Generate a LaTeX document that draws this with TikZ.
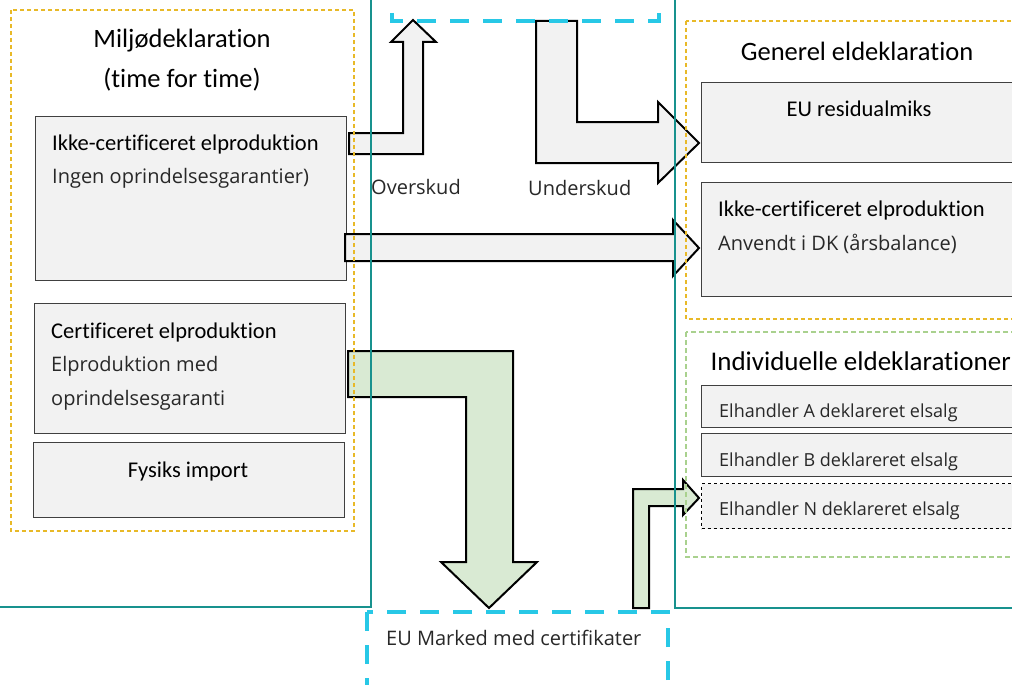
\documentclass[tikz,border=0pt]{standalone}
\usepackage{fontspec}
\setmainfont{Carlito}[Ligatures=NoCommon]
\newfontfamily\segoe{Open Sans}
\definecolor{frameteal}{RGB}{24,146,142}
\definecolor{certcyan}{RGB}{40,200,230}
\definecolor{dashgold}{RGB}{232,185,40}
\definecolor{dashgreen}{RGB}{169,209,142}
\definecolor{boxgray}{RGB}{242,242,242}
\definecolor{arrowgreen}{RGB}{217,234,211}
\definecolor{bodytext}{RGB}{40,40,40}
\begin{document}
\begin{tikzpicture}[x=1pt,y=-1pt,
    panel/.style={draw=frameteal,line width=2pt},
    market/.style={draw=certcyan,line width=4pt,dash pattern=on 19pt off 14pt},
    goldgroup/.style={draw=dashgold,line width=1.2pt,dash pattern=on 4pt off 3pt},
    greengroup/.style={draw=dashgreen,line width=1.2pt,dash pattern=on 5pt off 3pt},
    box/.style={draw=black!75,line width=1.3pt,fill=boxgray,anchor=north west,inner sep=0pt},
    heading/.style={font=\fontsize{26.5}{30}\selectfont},
    boxtitle/.style={font=\fontsize{22.5}{26}\selectfont,anchor=base west,inner sep=0pt},
    boxtext/.style={font=\segoe\fontsize{20}{24}\selectfont,text=bodytext,anchor=base west,inner sep=0pt},
    smalltext/.style={boxtext,font=\segoe\fontsize{18}{22}\selectfont},
    greyarrow/.style={draw=black,line width=2pt,fill=boxgray},
    greenarrow/.style={draw=black,line width=2pt,fill=arrowgreen}]
  \clip (0,0) rectangle (1012,685);
  \fill[white] (0,0) rectangle (1012,685);

  \node[box,minimum width=311,minimum height=164] (ikkeL) at (35,116) {};
  \node[box,minimum width=311,minimum height=130] (cert) at (34,303) {};
  \node[box,minimum width=311,minimum height=75] (fysisk) at (33,442) {};
  \node[box,minimum width=330,minimum height=80] (residual) at (701,82) {};
  \node[box,minimum width=330,minimum height=114] (ikkeR) at (701,182) {};
  \node[box,minimum width=330,minimum height=42] (elA) at (701,385) {};
  \node[box,minimum width=330,minimum height=43] (elB) at (701,433) {};
  \node[box,minimum width=330,minimum height=45,dashed,draw=black,line width=1pt] (elN) at (701,483) {};

  \draw[greyarrow] (349,133) -- (403,133) -- (403,42) -- (391,42) -- (413,20)
    -- (436,42) -- (423,42) -- (423,154) -- (349,154) -- cycle;
  \draw[greyarrow] (536,21) -- (577,21) -- (577,122) -- (658,122) -- (658,102)
    -- (699,143) -- (658,183) -- (658,163) -- (536,163) -- cycle;
  \draw[greyarrow] (345,234) -- (673,234) -- (673,220) -- (699,248) -- (673,276)
    -- (673,261) -- (345,261) -- cycle;
  \draw[greenarrow] (348,351) -- (513,351) -- (513,562) -- (537,562) -- (489,608)
    -- (441,562) -- (466,562) -- (466,397) -- (348,397) -- cycle;
  \draw[greenarrow] (633,608) -- (633,489) -- (683,489) -- (683,480) -- (699,498)
    -- (683,515) -- (683,506) -- (649,506) -- (649,608) -- cycle;

  \draw[panel] (-5,-5) rectangle (371,607);
  \draw[panel] (675,-5) rectangle (1030,608);
  \draw[goldgroup] (11,10) rectangle (354,531);
  \draw[goldgroup] (686,21) rectangle (1030,319);
  \draw[greengroup] (686,332) rectangle (1030,557);
  \draw[market] (392,-20) rectangle (659,21);
  \draw[market] (367,612) rectangle (668,710);

  \node[heading,anchor=base] (miljo) at (182,48) {Miljødeklaration};
  \node[heading,anchor=base] (timefor) at (182,88) {(time for time)};
  \node[boxtitle] (ikkeLtitle) at (52,150) {Ikke-certificeret elproduktion};
  \node[boxtext] (ikkeLtext) at (52,183) {Ingen oprindelsesgarantier)};
  \node[boxtitle] (certtitle) at (51,338) {Certificeret elproduktion};
  \node[boxtext] (certtext1) at (51,371) {Elproduktion med};
  \node[boxtext] (certtext2) at (51,405) {oprindelsesgaranti};
  \node[boxtitle,anchor=base] (fysisktitle) at (188,477) {Fysiks import};

  \node[boxtext] (overskud) at (371,194) {Overskud};
  \node[boxtext] (underskud) at (528,195) {Underskud};
  \node[boxtext] (markettext) at (386,645) {EU Marked med certifikater};

  \node[heading,anchor=base] (generel) at (857,60) {Generel eldeklaration};
  \node[boxtitle,anchor=base] (residualtitle) at (859,116) {EU residualmiks};
  \node[boxtitle] (ikkeRtitle) at (718,216) {Ikke-certificeret elproduktion};
  \node[boxtext] (ikkeRtext) at (718,250) {Anvendt i DK (årsbalance)};
  \node[heading,anchor=base west,font=\fontsize{27}{30}\selectfont] (individuelle) at (707,370) {Individuelle eldeklarationer};
  \node[smalltext] (elAtext) at (719,417) {Elhandler A deklareret elsalg};
  \node[smalltext] (elBtext) at (719,466) {Elhandler B deklareret elsalg};
  \node[smalltext] (elNtext) at (719,515) {Elhandler N deklareret elsalg};
\end{tikzpicture}
\end{document}
